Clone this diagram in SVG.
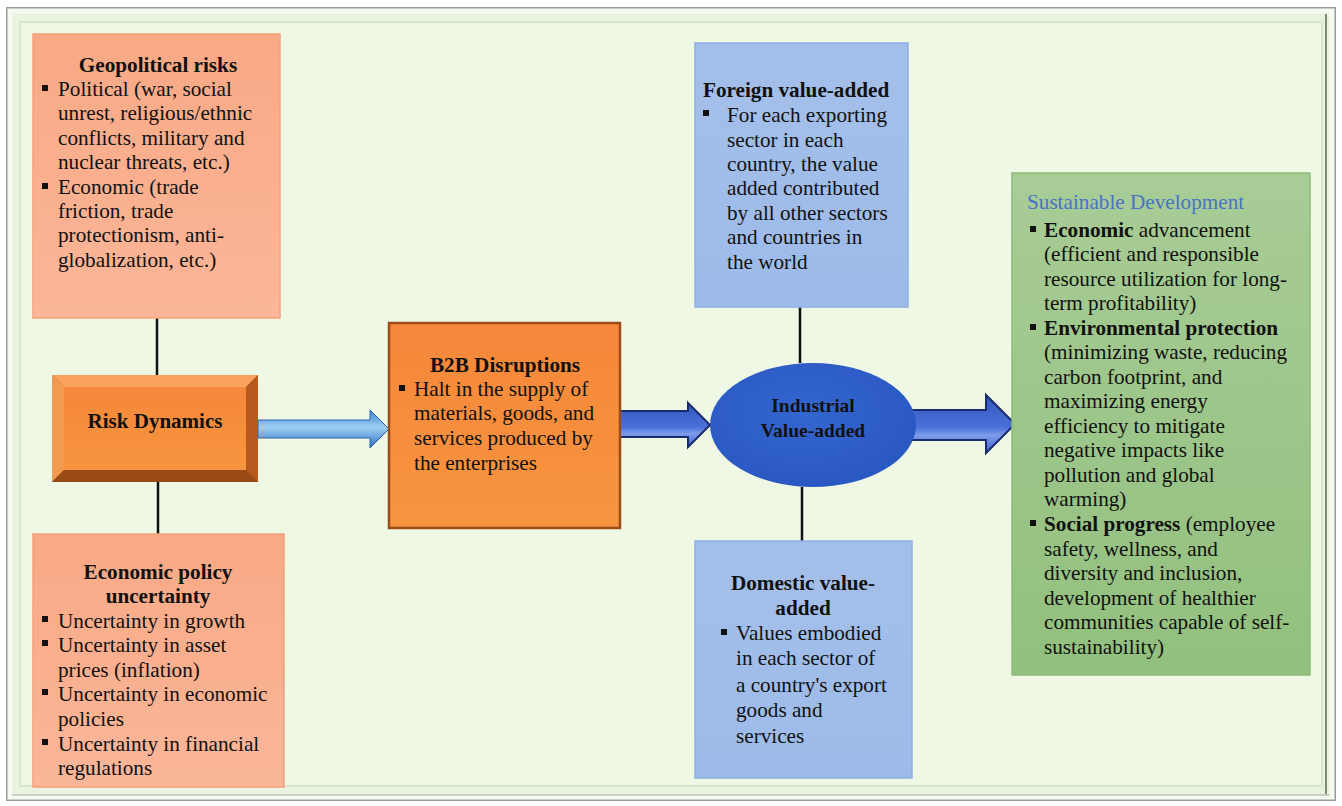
<svg xmlns="http://www.w3.org/2000/svg" width="1342" height="806" viewBox="0 0 1342 806">
<defs>
<style>
text{font-family:"Liberation Serif","Times New Roman",serif;font-size:21.2px;fill:#111}
.b{font-weight:bold}
.c{text-anchor:middle}
.line{stroke:#111;stroke-width:2.5;fill:none}
</style>
<linearGradient id="salmon" x1="0" y1="0" x2="0" y2="1">
<stop offset="0" stop-color="#f8a985"/><stop offset="1" stop-color="#fbb698"/>
</linearGradient>
<linearGradient id="orange" x1="0" y1="0" x2="0" y2="1">
<stop offset="0" stop-color="#f5873a"/><stop offset="1" stop-color="#f7953f"/>
</linearGradient>
<linearGradient id="blueBox" x1="0" y1="0" x2="0" y2="1">
<stop offset="0" stop-color="#a4bfe9"/><stop offset="1" stop-color="#9dbbea"/>
</linearGradient>
<linearGradient id="green" x1="0" y1="0" x2="0" y2="1">
<stop offset="0" stop-color="#a8cc96"/><stop offset="1" stop-color="#92c07e"/>
</linearGradient>
<linearGradient id="arrowLight" x1="0" y1="0" x2="0" y2="1">
<stop offset="0" stop-color="#3a7fd0"/><stop offset="0.45" stop-color="#9fd0f6"/><stop offset="1" stop-color="#2f6fc0"/>
</linearGradient>
<linearGradient id="arrowDark" x1="0" y1="0" x2="0" y2="1">
<stop offset="0" stop-color="#3358c0"/><stop offset="0.55" stop-color="#4a70d8"/><stop offset="0.7" stop-color="#7d9cec"/><stop offset="1" stop-color="#3a5ecc"/>
</linearGradient>
<radialGradient id="ell" cx="0.45" cy="0.4" r="0.6">
<stop offset="0" stop-color="#3466d0"/><stop offset="1" stop-color="#2a58c2"/>
</radialGradient>
</defs>

<!-- frame -->
<rect x="0" y="0" width="1342" height="806" fill="#ffffff"/>
<rect x="7" y="8" width="1328" height="792" fill="#e9f3df" stroke="#9a9a9a" stroke-width="2"/>
<rect x="10" y="11" width="1322" height="786" fill="none" stroke="#f6fbf1" stroke-width="5"/>
<rect x="20" y="22" width="1302" height="764" fill="#eef8e4" stroke="#d9e6cf" stroke-width="2"/>
<line x1="1326" y1="14" x2="1326" y2="796" stroke="#7d8a78" stroke-width="2"/>
<line x1="12" y1="795" x2="1330" y2="795" stroke="#c7d2c0" stroke-width="2"/>

<!-- connectors -->
<g id="connectors">
<line class="line" x1="157" y1="318" x2="157" y2="375"/>
<line class="line" x1="158" y1="482" x2="158" y2="534"/>
<line class="line" x1="800" y1="307" x2="800" y2="363"/>
<line class="line" x1="802" y1="487" x2="802" y2="541"/>
<path d="M258,420 L370,420 L370,410 L389,429 L370,448 L370,438 L258,438 Z" fill="url(#arrowLight)" stroke="#2c64b0" stroke-width="1"/>
<path d="M620,411 L688,411 L688,403 L710,425 L688,447 L688,437 L620,437 Z" fill="url(#arrowDark)" stroke="#1b2a6a" stroke-width="2"/>
<path d="M905,410 L986,410 L986,395 L1015,424 L986,453 L986,440 L905,440 Z" fill="url(#arrowDark)" stroke="#1b2a6a" stroke-width="2"/>
</g>

<!-- Geopolitical risks -->
<g id="geopolitical">
<rect x="33" y="34" width="247" height="284" fill="url(#salmon)" stroke="#f7a07a" stroke-width="1.5"/>
<text class="b c" x="158" y="72">Geopolitical risks</text>
<rect x="42" y="85" width="6" height="6" fill="#111"/>
<text x="58" y="96">Political (war, social</text>
<text x="58" y="120">unrest, religious/ethnic</text>
<text x="58" y="145">conflicts, military and</text>
<text x="58" y="169">nuclear threats, etc.)</text>
<rect x="42" y="183" width="6" height="6" fill="#111"/>
<text x="58" y="194">Economic (trade</text>
<text x="58" y="218">friction, trade</text>
<text x="58" y="242">protectionism, anti-</text>
<text x="58" y="267">globalization, etc.)</text>
</g>

<!-- Risk Dynamics -->
<g id="risk-dynamics">
<rect x="52" y="375" width="206" height="107" fill="#a85418"/>
<polygon points="52,375 258,375 246,387 64,387" fill="#f9a35e"/>
<polygon points="52,375 64,387 64,470 52,482" fill="#f39a52"/>
<polygon points="258,375 258,482 246,470 246,387" fill="#b55a1c"/>
<polygon points="52,482 258,482 246,470 64,470" fill="#9a4a14"/>
<rect x="64" y="387" width="182" height="83" fill="url(#orange)"/>
<text class="b c" x="155" y="428" style="font-size:21px">Risk Dynamics</text>
</g>

<!-- Economic policy uncertainty -->
<g id="economic-policy">
<rect x="33" y="534" width="251" height="253" fill="url(#salmon)" stroke="#f7a07a" stroke-width="1.5"/>
<text class="b c" x="158" y="579">Economic policy</text>
<text class="b c" x="158" y="603">uncertainty</text>
<rect x="42" y="616" width="6" height="6" fill="#111"/>
<text x="58" y="628">Uncertainty in growth</text>
<rect x="42" y="640" width="6" height="6" fill="#111"/>
<text x="58" y="652">Uncertainty in asset</text>
<text x="58" y="677">prices (inflation)</text>
<rect x="42" y="689" width="6" height="6" fill="#111"/>
<text x="58" y="701">Uncertainty in economic</text>
<text x="58" y="726">policies</text>
<rect x="42" y="739" width="6" height="6" fill="#111"/>
<text x="58" y="751">Uncertainty in financial</text>
<text x="58" y="775">regulations</text>
</g>

<!-- B2B Disruptions -->
<g id="b2b">
<rect x="389" y="323" width="231" height="205" fill="url(#orange)" stroke="#9b4c18" stroke-width="2.5"/>
<text class="b c" x="505" y="372">B2B Disruptions</text>
<rect x="399" y="385" width="6" height="6" fill="#111"/>
<text x="414" y="396">Halt in the supply of</text>
<text x="414" y="420">materials, goods, and</text>
<text x="414" y="445">services produced by</text>
<text x="414" y="470">the enterprises</text>
</g>

<!-- Industrial Value-added -->
<g id="industrial">
<ellipse cx="813" cy="425" rx="103" ry="62" fill="url(#ell)"/>
<text class="b c" x="813" y="412" style="font-size:19.5px">Industrial</text>
<text class="b c" x="813" y="437" style="font-size:19.5px">Value-added</text>
</g>

<!-- Foreign value-added -->
<g id="foreign">
<rect x="695" y="43" width="213" height="264" fill="url(#blueBox)" stroke="#8fb0e2" stroke-width="1.5"/>
<text class="b" x="703" y="97">Foreign value-added</text>
<rect x="703" y="110" width="6" height="6" fill="#111"/>
<text x="727" y="122">For each exporting</text>
<text x="727" y="147">sector in each</text>
<text x="727" y="171">country, the value</text>
<text x="727" y="195">added contributed</text>
<text x="727" y="220">by all other sectors</text>
<text x="727" y="244">and countries in</text>
<text x="727" y="269">the world</text>
</g>

<!-- Domestic value-added -->
<g id="domestic">
<rect x="695" y="541" width="217" height="237" fill="url(#blueBox)" stroke="#8fb0e2" stroke-width="1.5"/>
<text class="b c" x="803" y="590">Domestic value-</text>
<text class="b c" x="803" y="615">added</text>
<rect x="721" y="629" width="6" height="6" fill="#111"/>
<text x="736" y="640">Values embodied</text>
<text x="736" y="665">in each sector of</text>
<text x="736" y="692">a country's export</text>
<text x="736" y="717">goods and</text>
<text x="736" y="743">services</text>
</g>

<!-- Sustainable Development -->
<g id="sustainable">
<rect x="1012" y="173" width="298" height="502" fill="url(#green)" stroke="#8dbb7a" stroke-width="1.5"/>
<text x="1027" y="209" style="fill:#4a72c8">Sustainable Development</text>
<rect x="1030" y="226" width="6" height="6" fill="#111"/>
<text x="1044" y="237"><tspan class="b">Economic</tspan> advancement</text>
<text x="1044" y="261">(efficient and responsible</text>
<text x="1044" y="286">resource utilization for long-</text>
<text x="1044" y="310">term profitability)</text>
<rect x="1030" y="324" width="6" height="6" fill="#111"/>
<text x="1044" y="335" class="b">Environmental protection</text>
<text x="1044" y="359">(minimizing waste, reducing</text>
<text x="1044" y="384">carbon footprint, and</text>
<text x="1044" y="408">maximizing energy</text>
<text x="1044" y="433">efficiency to mitigate</text>
<text x="1044" y="457">negative impacts like</text>
<text x="1044" y="482">pollution and global</text>
<text x="1044" y="506">warming)</text>
<rect x="1030" y="520" width="6" height="6" fill="#111"/>
<text x="1044" y="531"><tspan class="b">Social progress</tspan> (employee</text>
<text x="1044" y="556">safety, wellness, and</text>
<text x="1044" y="580">diversity and inclusion,</text>
<text x="1044" y="605">development of healthier</text>
<text x="1044" y="629">communities capable of self-</text>
<text x="1044" y="654">sustainability)</text>
</g>
</svg>
